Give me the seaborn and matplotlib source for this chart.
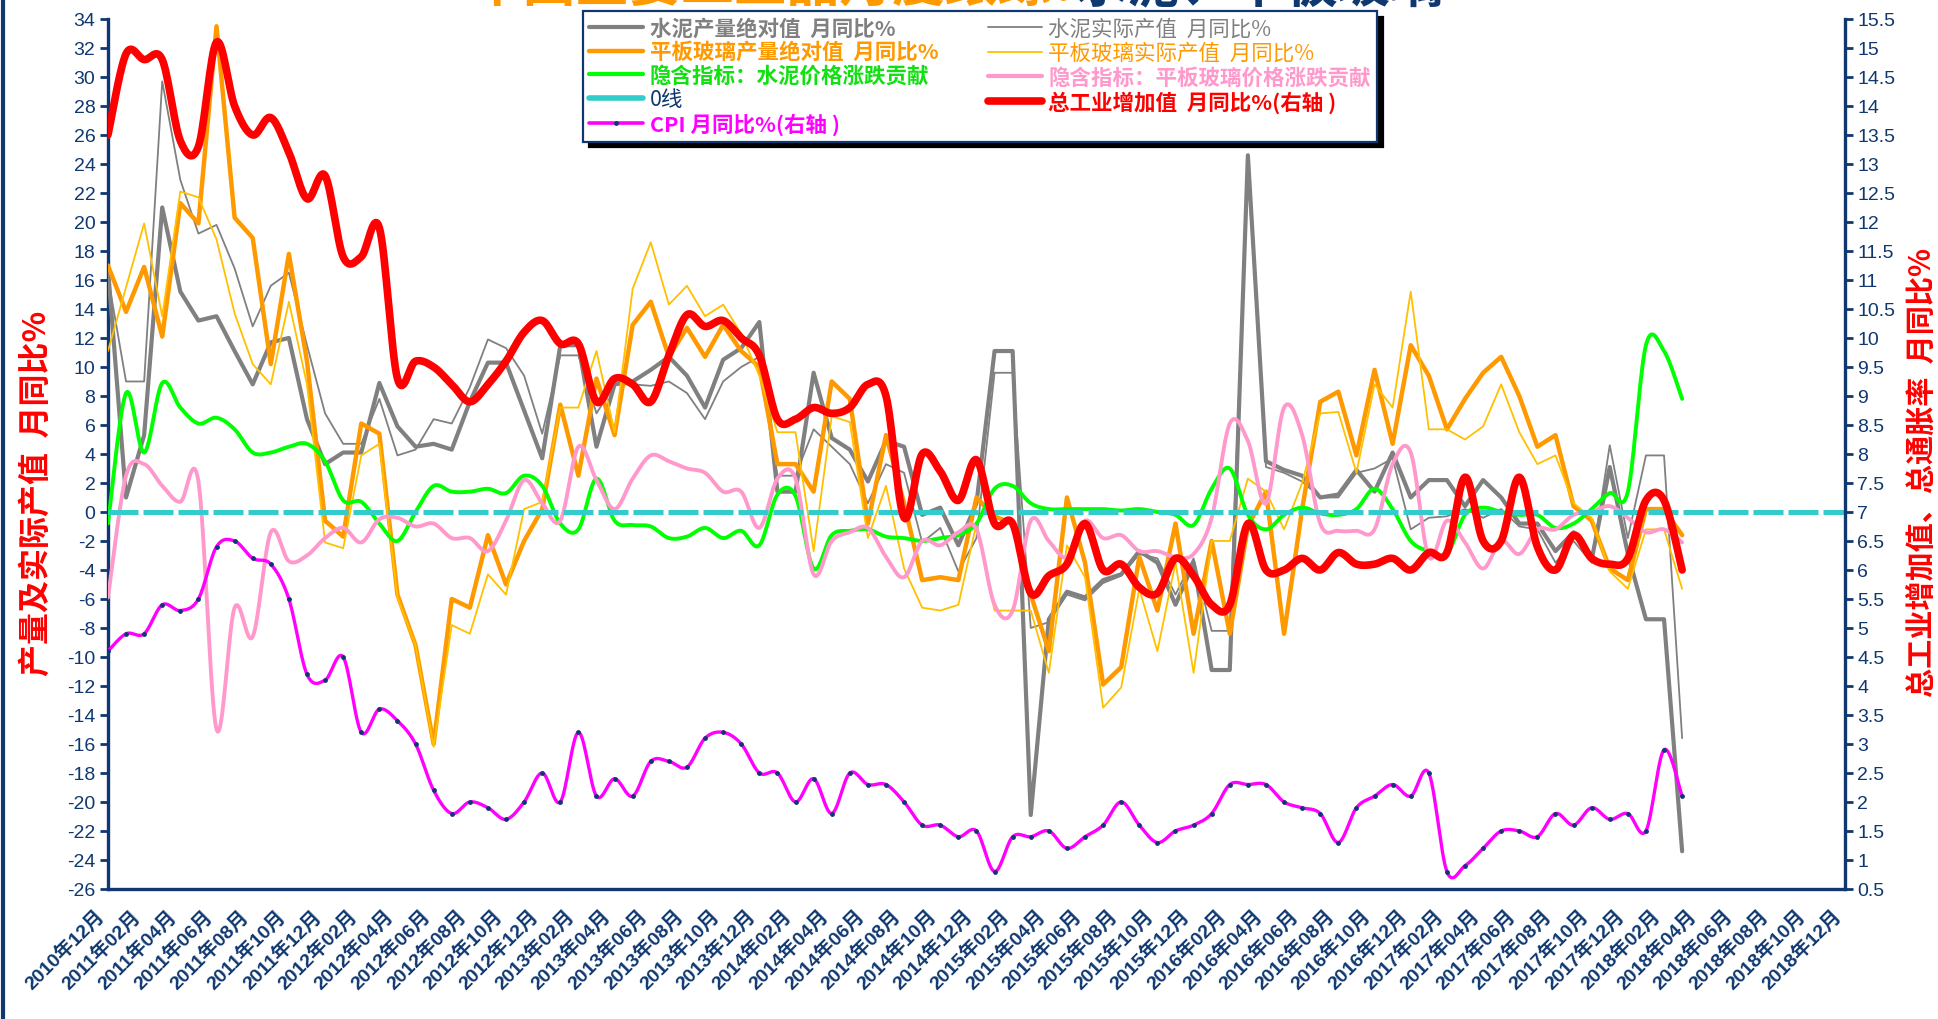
import numpy as np
import pandas as pd
import matplotlib
matplotlib.use('Agg')
import matplotlib.pyplot as plt
from matplotlib.lines import Line2D
from matplotlib.transforms import ScaledTranslation
import seaborn as sns

# month axis: 2010-12 .. 2018-12, data up to 2018-03
months = pd.period_range('2010-12', '2018-12', freq='M')
month_labels = [f'{p.year}年{p.month:02d}月' for p in months]

cement_abs = [16.8, 1.0, 5.3, 21.0, 15.2, 13.2, 13.5, 11.1, 8.8, 11.7, 12.0, 6.4, 3.3, 4.1, 4.1, 8.9, 5.9, 4.5, 4.7, 4.3,
              7.6, 10.3, 10.3, 7.0, 3.7, 11.5, 11.5, 4.5, 8.8, 9.0, 9.8, 10.7, 9.4, 7.2, 10.5, 11.3, 13.1, 1.4, 1.4, 9.6,
              5.1, 4.3, 2.1, 4.9, 4.5, -0.2, 0.3, -2.3, 0.6, 11.1, 11.1, -20.9, -7.4, -5.5, -5.9, -4.7, -4.3, -2.7, -3.5, -6.4,
              -3.5, -10.9, -10.9, 24.6, 3.5, 2.9, 2.5, 1.0, 1.2, 2.9, 1.4, 4.1, 1.0, 2.2, 2.2, 0.4, 2.2, 1.0, -0.8, -0.8,
              -2.7, -1.4, -3.3, 3.1, -2.9, -7.4, -7.4, -23.4]
cement_real = [16.2, 9.0, 9.0, 29.7, 22.9, 19.2, 19.8, 16.8, 12.8, 15.6, 16.5, 11.5, 6.8, 4.7, 4.7, 7.8, 3.9, 4.3, 6.4, 6.1,
               8.6, 11.9, 11.3, 9.4, 5.4, 10.8, 10.8, 6.8, 8.8, 8.8, 8.7, 9.0, 8.2, 6.4, 9.0, 10.0, 10.7, 2.5, 2.5, 5.7,
               4.5, 3.3, 0.6, 3.3, 2.7, -2.1, -1.1, -4.1, -1.8, 9.6, 9.6, -8.0, -7.6, -5.7, -6.1, -4.9, -4.4, -2.9, -3.2, -5.7,
               -3.2, -8.2, -8.2, 24.0, 3.1, 2.7, 2.1, 1.0, 1.0, 2.7, 3.0, 3.7, -1.2, -0.4, -0.3, 0.2, -0.4, 0.2, -1.0, -1.2,
               -3.5, -2.0, -3.5, 4.6, -1.8, 3.9, 3.9, -15.6]
glass_abs = [17.0, 13.8, 16.9, 12.1, 21.3, 19.9, 33.5, 20.3, 18.9, 10.2, 17.8, 10.4, -0.6, -1.7, 6.1, 5.4, -5.7, -9.2, -16.0, -6.0,
             -6.6, -1.6, -5.0, -2.0, 0.2, 7.4, 2.5, 9.2, 5.3, 12.9, 14.5, 10.7, 12.7, 10.7, 12.9, 11.1, 10.0, 3.3, 3.3, 1.4,
             9.0, 7.8, -0.8, 5.3, 0.6, -4.7, -4.5, -4.7, 1.0, -0.3, -0.8, -5.7, -9.6, 1.0, -3.5, -11.9, -10.7, -3.1, -6.8, -0.8,
             -8.4, -2.0, -8.4, -1.0, 1.4, -8.4, 0.2, 7.6, 8.3, 3.9, 9.8, 4.7, 11.5, 9.4, 5.7, 7.8, 9.6, 10.7, 8.0, 4.5,
             5.3, 0.4, -0.6, -3.9, -4.7, 0.2, 0.2, -1.6]
glass_real = [11.1, 15.5, 19.9, 13.5, 22.1, 21.7, 18.8, 13.7, 10.2, 8.8, 14.5, 8.8, -2.1, -2.5, 3.9, 4.7, -5.9, -9.2, -16.2, -7.8,
              -8.4, -4.3, -5.7, 0.2, 0.7, 7.2, 7.2, 11.1, 5.5, 15.4, 18.6, 14.3, 15.6, 13.5, 14.3, 12.3, 9.4, 5.5, 5.5, -2.7,
              6.6, 6.2, -1.8, 1.8, -3.9, -6.6, -6.8, -6.4, -0.8, -6.8, -6.8, -6.8, -11.1, -2.3, -4.5, -13.5, -12.1, -5.3, -9.6, -3.5,
              -11.1, -2.0, -2.0, 2.3, 1.4, -1.2, 2.0, 6.8, 6.9, 2.7, 8.8, 7.2, 15.2, 5.7, 5.7, 5.0, 5.9, 8.8, 5.5, 3.3,
              3.9, 0.6, -0.4, -4.1, -5.3, -1.2, -1.2, -5.3]
cement_price = [-0.8, 8.2, 4.1, 8.9, 7.2, 6.1, 6.5, 5.7, 4.1, 4.1, 4.5, 4.7, 3.5, 0.8, 0.7, -0.8, -2.0, 0.0, 1.8, 1.4,
                1.4, 1.6, 1.3, 2.5, 1.8, -0.8, -1.2, 2.3, -0.6, -0.9, -1.0, -1.8, -1.7, -1.1, -1.8, -1.3, -2.3, 1.2, 1.1, -3.9,
                -1.6, -1.3, -1.2, -1.7, -1.8, -2.0, -1.8, -1.6, -0.8, 1.6, 1.8, 0.6, 0.2, 0.2, 0.2, 0.2, 0.1, 0.2, 0.0, -0.2,
                -0.9, 1.6, 3.0, -0.2, -1.2, -0.2, 0.3, -0.1, -0.2, 0.2, 1.6, 0.2, -2.0, -2.7, -2.9, -0.2, 0.3, 0.0, -0.2, -0.2,
                -1.1, -0.8, 0.2, 1.3, 1.4, 11.5, 11.1, 7.8]
glass_price = [-5.9, 2.5, 3.3, 1.8, 0.7, 2.1, -15.0, -6.6, -8.6, -1.4, -3.4, -3.0, -1.8, -1.1, -2.1, -0.5, -0.4, -1.0, -0.8, -1.8,
               -1.8, -2.7, -0.6, 2.2, 0.6, -0.6, 4.5, 2.2, 0.2, 2.3, 3.9, 3.5, 3.0, 2.7, 1.4, 1.4, -1.1, 2.3, 2.3, -4.3,
               -2.0, -1.4, -1.1, -3.1, -4.5, -2.0, -2.3, -1.4, -1.2, -6.4, -6.8, -0.6, -2.0, -3.1, -0.6, -1.8, -1.6, -2.7, -2.7, -3.1,
               -2.9, -0.4, 6.1, 4.9, 0.6, 7.2, 5.3, -0.8, -1.3, -1.3, -1.2, 3.3, 4.1, -3.1, -0.6, -2.1, -3.9, -2.0, -2.9, -1.2,
               -1.2, -0.2, 0.0, 0.4, -0.4, -1.4, -1.2, -2.1]
industry_va = [13.5, 14.9, 14.8, 14.8, 13.4, 13.3, 15.1, 14.0, 13.5, 13.8, 13.2, 12.4, 12.8, 11.4, 11.4, 11.9, 9.3, 9.6, 9.5, 9.2,
               8.9, 9.2, 9.6, 10.1, 10.3, 9.9, 9.9, 8.9, 9.3, 9.2, 8.9, 9.7, 10.4, 10.2, 10.3, 10.0, 9.7, 8.6, 8.6, 8.8,
               8.7, 8.8, 9.2, 9.0, 6.9, 8.0, 7.7, 7.2, 7.9, 6.8, 6.8, 5.6, 5.9, 6.1, 6.8, 6.0, 6.1, 5.7, 5.6, 6.2,
               5.9, 5.4, 5.4, 6.8, 6.0, 6.0, 6.2, 6.0, 6.3, 6.1, 6.1, 6.2, 6.0, 6.3, 6.3, 7.6, 6.5, 6.5, 7.6, 6.4,
               6.0, 6.6, 6.2, 6.1, 6.2, 7.2, 7.2, 6.0]
cpi = [4.6, 4.9, 4.9, 5.4, 5.3, 5.5, 6.4, 6.5, 6.2, 6.1, 5.5, 4.2, 4.1, 4.5, 3.2, 3.6, 3.4, 3.0, 2.2, 1.8,
       2.0, 1.9, 1.7, 2.0, 2.5, 2.0, 3.2, 2.1, 2.4, 2.1, 2.7, 2.7, 2.6, 3.1, 3.2, 3.0, 2.5, 2.5, 2.0, 2.4,
       1.8, 2.5, 2.3, 2.3, 2.0, 1.6, 1.6, 1.4, 1.5, 0.8, 1.4, 1.4, 1.5, 1.2, 1.4, 1.6, 2.0, 1.6, 1.3, 1.5,
       1.6, 1.8, 2.3, 2.3, 2.3, 2.0, 1.9, 1.8, 1.3, 1.9, 2.1, 2.3, 2.1, 2.5, 0.8, 0.9, 1.2, 1.5, 1.5, 1.4,
       1.8, 1.6, 1.9, 1.7, 1.8, 1.5, 2.9, 2.1]

NAVY = '#0F3870'
CJK = ['Liberation Sans', 'Noto Sans CJK SC', 'DejaVu Sans']

sns.set_style('white')
plt.rcParams['font.family'] = ['Noto Sans CJK SC', 'DejaVu Sans']
plt.rcParams['axes.unicode_minus'] = False


def smooth(y, n=16):
    # excel-style smoothed line (catmull-rom bezier through the monthly points)
    y = np.asarray(y, float)
    x = np.arange(len(y), dtype=float)
    px = np.concatenate([[x[0]], x, [x[-1]]])
    py = np.concatenate([[y[0]], y, [y[-1]]])
    t = np.linspace(0, 1, n, endpoint=False)[:, None]
    xs, ys = [], []
    for k in range(len(y) - 1):
        p0 = np.array([px[k], py[k]]); p1 = np.array([px[k + 1], py[k + 1]])
        p2 = np.array([px[k + 2], py[k + 2]]); p3 = np.array([px[k + 3], py[k + 3]])
        c1 = p1 + (p2 - p0) / 6.0
        c2 = p2 - (p3 - p1) / 6.0
        b = (1 - t) ** 3 * p1 + 3 * (1 - t) ** 2 * t * c1 + 3 * (1 - t) * t ** 2 * c2 + t ** 3 * p2
        xs.append(b[:, 0]); ys.append(b[:, 1])
    xs.append([x[-1]]); ys.append([y[-1]])
    return np.concatenate(xs), np.concatenate(ys)


fig = plt.figure(figsize=(19.38, 10.2), dpi=100)
ax = fig.add_axes([0.0557, 0.1275, 0.8963, 0.8529])
ax2 = ax.twinx()

idx = np.arange(len(cement_abs))

# primary axis series
sns.lineplot(x=idx, y=cement_abs, ax=ax, color='#808080', linewidth=3.0, zorder=3)
sns.lineplot(x=idx, y=cement_real, ax=ax, color='#808080', linewidth=1.3, zorder=3)
sns.lineplot(x=idx, y=glass_abs, ax=ax, color='#FF9900', linewidth=3.2, zorder=3)
sns.lineplot(x=idx, y=glass_real, ax=ax, color='#FFC000', linewidth=1.3, zorder=3)
gx, gy = smooth(cement_price)
sns.lineplot(x=gx, y=gy, ax=ax, color='#00FF00', linewidth=2.8, sort=False, zorder=3)
px_, py_ = smooth(glass_price)
sns.lineplot(x=px_, y=py_, ax=ax, color='#FF99CC', linewidth=2.8, sort=False, zorder=3)
ax.axhline(0, color='#33CCCC', linewidth=3.6, linestyle=(0, (6, 1)), zorder=4)

# secondary axis series
rx, ry = smooth(industry_va)
sns.lineplot(x=rx, y=ry, ax=ax2, color='#FF0000', linewidth=5.5, sort=False, zorder=5)
cx, cy = smooth(cpi)
sns.lineplot(x=cx, y=cy, ax=ax2, color='#FF00FF', linewidth=2.4, sort=False, zorder=5)
ax2.scatter(idx, cpi, s=6, color=NAVY, zorder=6)

ax.set_xlim(0, len(months) - 1)
ax.set_ylim(-26, 34)
ax2.set_ylim(0.5, 15.5)
ax.set_yticks(np.arange(-26, 35, 2))
ax2.set_yticks(np.arange(0.5, 15.51, 0.5))
ax2.set_yticklabels([f'{v:g}' for v in np.arange(0.5, 15.51, 0.5)])
ax.set_xticks(np.arange(len(months)))
ax.set_xticklabels([lab if i % 2 == 0 else '' for i, lab in enumerate(month_labels)])
for a in (ax, ax2):
    a.set_xlabel('')
    a.set_ylabel('')
    a.grid(False)
    for s in a.spines.values():
        s.set_color(NAVY)
        s.set_linewidth(2.4)
    a.spines['top'].set_visible(False)
ax.spines['right'].set_visible(False)
ax2.spines['left'].set_visible(False)
ax2.spines['bottom'].set_visible(False)
ax.patch.set_alpha(0)

ax.tick_params(axis='y', direction='out', length=6, width=2, color=NAVY, labelcolor=NAVY, labelsize=14, pad=3)
ax2.tick_params(axis='y', direction='out', length=6, width=2, color=NAVY, labelcolor=NAVY, labelsize=14, pad=3)
ax.tick_params(axis='x', direction='inout', length=9, width=2, color=NAVY, labelcolor=NAVY, labelsize=14, pad=8)
for lab in ax.get_yticklabels() + ax2.get_yticklabels():
    lab.set_family(CJK)
shift = ScaledTranslation(-0.13, 0, fig.dpi_scale_trans)
for lab in ax.get_xticklabels():
    lab.set_family(CJK)
    lab.set_weight('bold')
    lab.set_rotation(45)
    lab.set_ha('right')
    lab.set_va('top')
    lab.set_rotation_mode('anchor')
    lab.set_transform(lab.get_transform() + shift)

# legend
handles = [
    Line2D([], [], color='#808080', lw=3.0),
    Line2D([], [], color='#FF9900', lw=3.2),
    Line2D([], [], color='#00FF00', lw=3.0),
    Line2D([], [], color='#33CCCC', lw=4.0),
    Line2D([], [], color='#FF00FF', lw=2.6, marker='o', markersize=2.5, markerfacecolor=NAVY, markeredgecolor=NAVY),
    Line2D([], [], color='#808080', lw=1.3),
    Line2D([], [], color='#FFC000', lw=1.3),
    Line2D([], [], color='#FF99CC', lw=3.0),
    Line2D([], [], color='#FF0000', lw=5.5),
]
labels = ['水泥产量绝对值  月同比%', '平板玻璃产量绝对值  月同比%', '隐含指标：水泥价格涨跌贡献', '0线', 'CPI 月同比%(右轴 )',
          '水泥实际产值  月同比%', '平板玻璃实际产值  月同比%', '隐含指标：平板玻璃价格涨跌贡献', '总工业增加值  月同比%(右轴 )']
text_colors = ['#808080', '#FF9900', '#11E011', NAVY, '#FF00FF', '#808080', '#FF9900', '#FF99CC', '#FF0000']
text_weights = ['bold', 'bold', 'bold', 'normal', 'bold', 'normal', 'normal', 'bold', 'bold']
leg = ax2.legend(handles, labels, ncol=2, loc='upper left', bbox_to_anchor=(583 / 1938, 1 - 12 / 1020),
                 bbox_transform=fig.transFigure, fontsize=15.5, frameon=True, fancybox=False,
                 shadow={'ox': 4, 'oy': -4, 'color': 'black', 'alpha': 1},
                 handlelength=2.5, handletextpad=0.3, columnspacing=2.3, labelspacing=0.12,
                 borderpad=0.3, borderaxespad=0)
leg.get_frame().set_edgecolor(NAVY)
leg.get_frame().set_linewidth(1.6)
leg.set_zorder(10)
for t, c, w in zip(leg.get_texts(), text_colors, text_weights):
    t.set_color(c)
    t.set_weight(w)

# axis titles
fig.text(0.019, 0.516, '产量及实际产值  月同比%', rotation=90, color='red', fontsize=23, weight='bold',
         ha='center', va='center')
fig.text(0.9918, 0.537, '总工业增加值、总通胀率  月同比%', rotation=90, color='red', fontsize=21, weight='bold',
         ha='center', va='center')

# title, mostly cropped at the top edge as in the source chart
fig.text(470 / 1938, 0.999, '中国主要工业品月度跟踪：', color='#FF9900', fontsize=38, weight='bold',
         ha='left', va='baseline')
fig.text(1075 / 1938, 0.999, '水泥、平板玻璃', color=NAVY, fontsize=38, weight='bold',
         ha='left', va='baseline')

fig.add_artist(Line2D([0.0015, 0.0015], [0, 1], color=NAVY, lw=3, transform=fig.transFigure))

fig.savefig('out.png', dpi=100)
